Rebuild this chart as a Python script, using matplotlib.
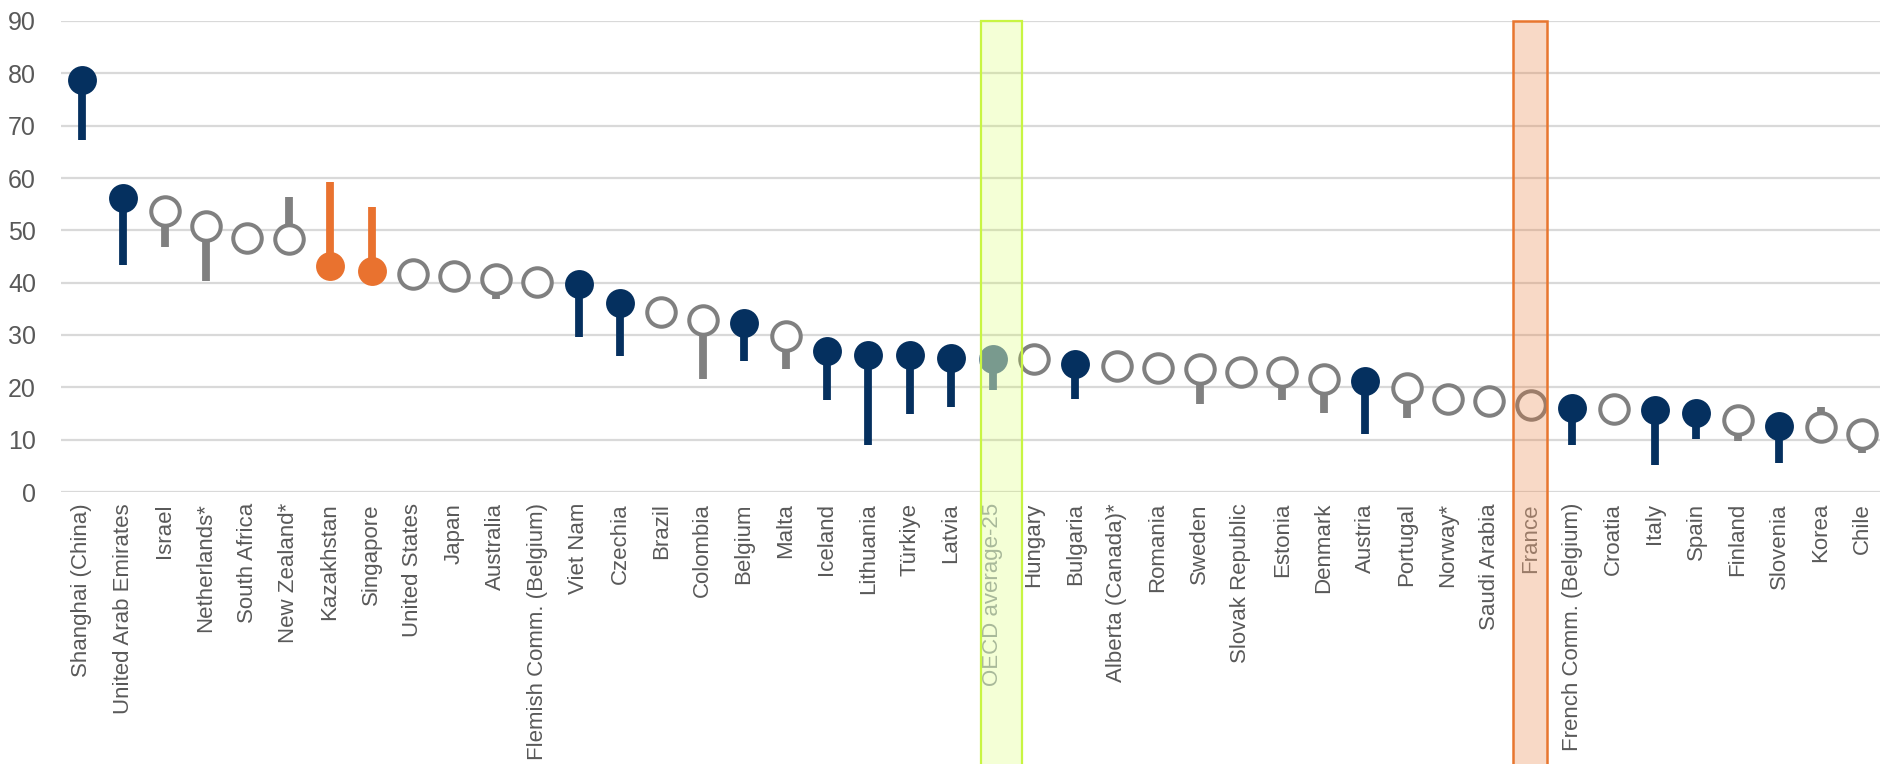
import matplotlib
matplotlib.use("Agg")
import matplotlib.pyplot as plt
from matplotlib.patches import Rectangle
import matplotlib.transforms as mtransforms
from matplotlib import font_manager

categories = ["Shanghai (China)", "United Arab Emirates", "Israel", "Netherlands*", "South Africa",
              "New Zealand*", "Kazakhstan", "Singapore", "United States", "Japan", "Australia",
              "Flemish Comm. (Belgium)", "Viet Nam", "Czechia", "Brazil", "Colombia", "Belgium",
              "Malta", "Iceland", "Lithuania", "Türkiye", "Latvia", "OECD average-25", "Hungary",
              "Bulgaria", "Alberta (Canada)*", "Romania", "Sweden", "Slovak Republic", "Estonia",
              "Denmark", "Austria", "Portugal", "Norway*", "Saudi Arabia", "France",
              "French Comm. (Belgium)", "Croatia", "Italy", "Spain", "Finland", "Slovenia",
              "Korea", "Chile"]

values = [78.8, 56.2, 53.6, 50.9, 48.5, 48.3, 43.2, 42.2, 41.7, 41.2, 40.7, 40.2, 39.8, 36.2,
          34.3, 32.8, 32.2, 29.9, 26.9, 26.1, 26.1, 25.7, 25.5, 25.4, 24.5, 24.0, 23.7, 23.5,
          22.9, 22.9, 21.5, 21.3, 19.9, 17.8, 17.3, 16.6, 16.0, 15.9, 15.7, 15.1, 13.7, 12.7,
          12.5, 11.0]

stem_ends = [67.3, 43.4, 46.8, 40.3, 48.5, 56.4, 59.2, 54.5, 41.7, 41.2, 36.8, 40.2, 29.6, 25.9,
             34.3, 21.6, 25.0, 23.5, 17.6, 9.0, 15.0, 16.2, 19.5, 25.4, 17.8, 24.0, 23.7, 16.9,
             22.9, 17.5, 15.1, 11.0, 14.1, 17.8, 17.3, 16.6, 8.9, 15.9, 5.1, 10.2, 9.8, 5.5,
             16.2, 7.5]

# group: 'navy' filled, 'hollow' grey ring, 'orange' filled, 'oecd' filled
groups = ["navy", "navy", "hollow", "hollow", "hollow", "hollow", "orange", "orange", "hollow",
          "hollow", "hollow", "hollow", "navy", "navy", "hollow", "hollow", "navy", "hollow",
          "navy", "navy", "navy", "navy", "oecd", "hollow", "navy", "hollow", "hollow", "hollow",
          "hollow", "hollow", "hollow", "navy", "hollow", "hollow", "hollow", "hollow", "navy",
          "hollow", "navy", "navy", "hollow", "navy", "hollow", "hollow"]

yticks = [0, 10, 20, 30, 40, 50, 60, 70, 80, 90]

NAVY = "#05305f"
GREY = "#808080"
ORANGE = "#e9722f"
OECD_COL = "#6581a5"
colors = {"navy": NAVY, "hollow": GREY, "orange": ORANGE, "oecd": OECD_COL}

avail = {f.name for f in font_manager.fontManager.ttflist}
narrow = "Liberation Sans Narrow" if "Liberation Sans Narrow" in avail else "Liberation Sans"

fig = plt.figure(figsize=(18.8, 7.64), dpi=100)
ax = fig.add_axes([61 / 1880, (764 - 492) / 764, 1 - 61 / 1880, (492 - 21) / 764])

x = list(range(len(categories)))

# stems
for xi, v, e, g in zip(x, values, stem_ends, groups):
    if abs(v - e) > 1e-9:
        ax.vlines(xi, min(v, e), max(v, e), colors=colors[g], linewidth=5.6,
                  capstyle="butt", zorder=3)

# markers
for xi, v, g in zip(x, values, groups):
    if g == "hollow":
        ax.plot(xi, v, marker="o", markersize=20.5, markerfacecolor="white",
                markeredgecolor=GREY, markeredgewidth=2.9, linestyle="none", zorder=4)
    else:
        ax.plot(xi, v, marker="o", markersize=20.8, markerfacecolor=colors[g],
                markeredgewidth=0, linestyle="none", zorder=4)

ax.set_ylim(0, 90)
ax.set_xlim(-0.5, -0.5 + (1880 - 61) / 41.4)
ax.set_yticks(yticks)
ax.set_yticklabels([str(t) for t in yticks], fontsize=18, color="#595959", family=narrow)
ax.set_xticks(x)
ax.set_xticklabels(categories, rotation=90, fontsize=16, color="#595959",
                   family="Liberation Sans", ha="center", va="top")
ax.tick_params(axis="both", length=0)
ax.tick_params(axis="y", pad=18)
ax.tick_params(axis="x", pad=8)
ax.grid(axis="y", color="#d9d9d9", linewidth=1.6)
ax.set_axisbelow(True)
for s in ax.spines.values():
    s.set_visible(False)

labels = ax.get_xticklabels()
i_oecd = categories.index("OECD average-25")
i_fr = categories.index("France")
labels[i_oecd].set_color("#a0a8b4")
labels[i_fr].set_color("#7d7d7d")

trans = mtransforms.blended_transform_factory(ax.transData, ax.transAxes)
bottom = -1.0
ax.add_patch(Rectangle((i_oecd - 0.27, bottom), 0.99, 1.0 - bottom, transform=trans,
                       facecolor="#ccff33", alpha=0.2, edgecolor="none", clip_on=False, zorder=6))
ax.add_patch(Rectangle((i_oecd - 0.27, bottom), 0.99, 1.0 - bottom, transform=trans,
                       facecolor="none", edgecolor="#c8f542", linewidth=1.6, clip_on=False, zorder=6))
ax.add_patch(Rectangle((i_fr - 0.43, bottom), 0.82, 1.0 - bottom, transform=trans,
                       facecolor="#e8762f", alpha=0.27, edgecolor="none", clip_on=False, zorder=6))
ax.add_patch(Rectangle((i_fr - 0.43, bottom), 0.82, 1.0 - bottom, transform=trans,
                       facecolor="none", edgecolor="#e8762f", linewidth=1.8, clip_on=False, zorder=6))

fig.savefig("out.png", dpi=100)
